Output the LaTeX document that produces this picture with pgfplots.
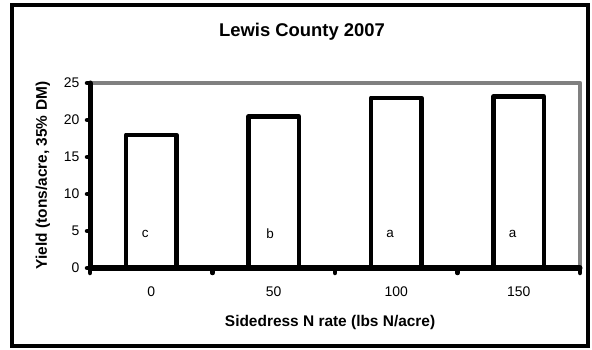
\documentclass[border=0pt]{standalone}
\usepackage{pgfplots}
\pgfplotsset{compat=1.18}
\usepackage{fontspec}
\setmainfont{Liberation Sans}
\definecolor{axgray}{HTML}{808080}
\begin{document}
\begin{tikzpicture}
\useasboundingbox (0bp,0bp) rectangle (592bp,350bp);
\draw[line width=4.5bp] (12bp,4bp) rectangle (588bp,345bp);
\node[font=\fontsize{18.5}{22}\selectfont\bfseries] at (302bp,318.5bp) {Lewis County 2007};
\begin{axis}[at={(90bp,82bp)}, anchor=south west, scale only axis,
  width=490bp, height=185bp,
  xmin=-0.5, xmax=3.5, ymin=0, ymax=25,
  clip=false,
  axis line style={draw=none},
  xtick={0,1,2,3}, xticklabels={0,50,100,150},
  xtick style={draw=none},
  ytick={0,5,10,15,20,25},
  ytick style={black, line width=4.5bp, line cap=round},
  tick align=outside, xtick pos=bottom, ytick pos=left,
  major tick length=3bp,
  tick label style={font=\fontsize{14}{16}\selectfont},
  xticklabel style={anchor=center, yshift=-21bp},
  yticklabel style={xshift=-4bp},
  /pgf/number format/assume math mode=true,
  xlabel={Sidedress N rate (lbs N/acre)},
  ylabel={Yield (tons/acre, 35\% DM)},
  label style={font=\fontsize{15.5}{18}\selectfont\bfseries},
  xlabel style={at={(axis description cs:0.49,-0.297)}, anchor=center},
  ylabel style={at={(axis description cs:-0.096,0.5)}, anchor=center},
]
\draw[axgray, line width=4.5bp, line join=round] (rel axis cs:0,1) -- (rel axis cs:1,1) -- (rel axis cs:1,0);
\addplot[ybar, bar width=0.41, fill=white, draw=black, line width=4.5bp, line join=round]
  coordinates {(0,18) (1,20.5) (2,23) (3,23.2)};
\draw[black, line width=5bp, line cap=round, line join=round] (rel axis cs:0,1) -- (rel axis cs:0,0) -- (rel axis cs:1,0);
\draw[black, line width=4.5bp, line cap=round] (axis cs:-0.5,0) -- ++(0bp,-5bp);
\draw[black, line width=4.5bp, line cap=round] (axis cs:0.5,0) -- ++(0bp,-5bp);
\draw[black, line width=4.5bp, line cap=round] (axis cs:1.5,0) -- ++(0bp,-5bp);
\draw[black, line width=4.5bp, line cap=round] (axis cs:2.5,0) -- ++(0bp,-5bp);
\draw[black, line width=4.5bp, line cap=round] (axis cs:3.5,0) -- ++(0bp,-5bp);
\node[font=\fontsize{13.5}{15}\selectfont] at (axis cs:-0.05,4.6) {c};
\node[font=\fontsize{13.5}{15}\selectfont] at (axis cs:0.97,4.6) {b};
\node[font=\fontsize{13.5}{15}\selectfont] at (axis cs:1.95,4.6) {a};
\node[font=\fontsize{13.5}{15}\selectfont] at (axis cs:2.95,4.6) {a};
\end{axis}
\end{tikzpicture}
\end{document}
